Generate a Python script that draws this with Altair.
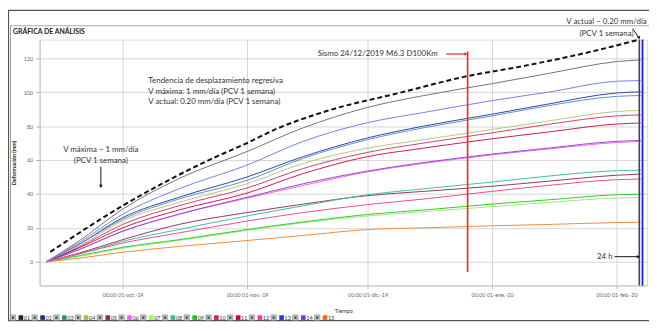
import altair as alt
import pandas as pd

# ---------------- data ----------------
dates = ["2019-09-12", "2019-09-20", "2019-10-01", "2019-10-15", "2019-11-01", "2019-11-15",
         "2019-12-01", "2019-12-15", "2020-01-01", "2020-01-15", "2020-02-01", "2020-02-07"]

series_names = ["01", "02", "03", "04", "05", "06", "07", "08", "09", "10", "11", "12", "13", "14", "15"]
line_colors = ["#737373", "#2a4a94", "#5b8fd0", "#b9c77e", "#8e3a5e", "#ee66ee", "#a6e87a", "#3fbf9c",
               "#2ccc2c", "#d0406e", "#d01848", "#ee4a94", "#7c7ce8", "#9a48d0", "#f08a3c"]
legend_colors = ["#222222", "#1a2f8a", "#2f8f8f", "#9cc43c", "#8a2a55", "#ff55ff", "#99ff55", "#33bb88",
                 "#11cc11", "#cc2255", "#cc0033", "#ff3399", "#2233ee", "#8833cc", "#ff6600"]

s01 = [0, 12, 31, 49, 65, 79, 91, 98, 105, 111, 118, 119]
s02 = [0, 10, 26, 38, 50, 62, 73, 80, 87, 93, 99.5, 100.2]
s03 = [0, 10, 25, 37, 48, 61, 72, 79, 86, 92, 97.5, 98]
s04 = [0, 9, 24, 35, 46, 58, 67, 72, 78, 83, 88.6, 89.3]
s05 = [0, 5, 13, 22, 29, 34, 39, 41.5, 44.5, 47.5, 51, 51.7]
s06 = [0, 7, 18, 28, 37.5, 45, 53, 58, 63, 66.5, 70.3, 71]
s07 = [0, 3, 8, 12.5, 18.5, 23, 27, 29.5, 32.5, 35, 37.6, 37.9]
s08 = [0, 4.5, 12, 19, 27, 33, 39.5, 43, 47, 50.5, 53.7, 54]
s09 = [0, 3.5, 8.5, 13, 19, 23.5, 27.9, 30.5, 34, 36.5, 39.5, 39.8]
s10 = [0, 8.5, 22, 33, 43.5, 55, 64.5, 70, 76, 81, 86, 86.6]
s11 = [0, 8, 20, 30.5, 40.5, 52, 62, 67, 72.5, 76.5, 81.2, 81.8]
s12 = [0, 4.5, 11, 17, 24, 29, 33.7, 37, 41.5, 45, 48.4, 48.8]
s13 = [0, 11, 28, 43, 57, 71, 82, 88, 95, 100, 106.4, 106.8]
s14 = [0, 7, 18, 28, 38, 46, 53.5, 58.5, 63.5, 67, 71, 71.5]
s15 = [0, 2, 5.6, 9, 12.5, 15.5, 19, 20, 21.2, 22, 23.1, 23.3]
all_series = [s01, s02, s03, s04, s05, s06, s07, s08, s09, s10, s11, s12, s13, s14, s15]

trend_dates = ["2019-09-13", "2019-10-01", "2019-10-23", "2019-11-01", "2019-11-08", "2019-11-21",
               "2019-12-09", "2019-12-25", "2020-01-09", "2020-01-25", "2020-02-06T16:00:00Z"]
trend_values = [5.8, 33, 60.5, 70, 78, 89, 99.6, 109, 115.5, 123.5, 131]

tick_dates = ["2019-10-01", "2019-11-01", "2019-12-01", "2020-01-01", "2020-02-01"]
tick_labels = ["00:00 01-oct.-19", "00:00 01-nov.-19", "00:00 01-dic.-19", "00:00 01-ene.-20", "00:00 01-feb.-20"]
y_ticks = [0, 20, 40, 60, 80, 100, 120]

sismo_date = "2019-12-25T22:00:00Z"
sismo_range = [124, -6]
black_line_date = "2020-02-06T16:00:00Z"
blue_line_date = "2020-02-07T11:00:00Z"

notes_left = ["Tendencia de desplazamiento regresiva",
              "V máxima: 1 mm/día (PCV 1 semana)",
              "V actual: 0.20 mm/día (PCV 1 semana)"]
notes_left_date = "2019-10-07T10:00:00Z"
notes_left_values = [106.4, 100.3, 94.2]

vmax_text = ["V máxima ~ 1 mm/día", "(PCV 1 semana)"]
vmax_date = "2019-09-25T14:00:00Z"
vmax_values = [65.7, 59.3]
vmax_arrow = [56.0, 44.5]

vact_text = ["V actual ~ 0.20 mm/día", "(PCV 1 semana)"]
vact_date = "2020-01-29T12:00:00Z"
vact_values = [141.2, 134.3]

sismo_text = "Sismo 24/12/2019 M6.3 D100Km"
sismo_text_date = "2019-12-18T12:00:00Z"
sismo_text_value = 122.5
sismo_arrow_dates = ["2019-12-20T14:00:00Z", "2019-12-25T12:00:00Z"]

h24_text = "24 h"
h24_date = "2020-01-31T00:00:00Z"
h24_value = 3.0
h24_arrow_dates = ["2020-01-31T12:00:00Z", "2020-02-06T10:00:00Z"]

# ---------------- tables ----------------
rows = []
for name, vals in zip(series_names, all_series):
    for d, v in zip(dates, vals):
        rows.append({"fecha": d, "serie": name, "valor": v})
df = pd.DataFrame(rows)
trend_df = pd.DataFrame({"fecha": trend_dates, "valor": trend_values})

W, H = 615, 249
FONT = "Lato"
LEG_Y = 281.5

def dt(y, m, d, h=0):
    return alt.DateTime(year=y, month=m, date=d, hours=h, utc=True)

xscale = alt.Scale(type="utc", domain=[dt(2019, 9, 10, 8), dt(2020, 2, 8, 14)])
yscale = alt.Scale(domain=[-14, 131], nice=False, zero=False)

label_expr = ""
for d, lab in zip(tick_dates, tick_labels):
    label_expr += f"utcFormat(datum.value, '%Y-%m-%d') == '{d}' ? '{lab}' : "
label_expr += "''"
tick_vals = [dt(int(d[:4]), int(d[5:7]), int(d[8:10])) for d in tick_dates]

xaxis = alt.Axis(values=tick_vals, labelExpr=label_expr, title="Tiempo", grid=True,
                 gridColor="#d6d6d6", gridWidth=1, domainColor="#c0c0c0", tickColor="#b0b0b0",
                 tickSize=3, labelFontSize=5.5, labelColor="#666", labelPadding=4, labelFont=FONT,
                 titleFontSize=5.5, titleFont=FONT, titleColor="#333", titleFontWeight="normal",
                 titleY=23, labelFlush=False)
yaxis = alt.Axis(values=y_ticks, title="Deformación (mm)", grid=True, gridColor="#d6d6d6",
                 domainColor="#c0c0c0", tickColor="#b0b0b0", tickSize=4, labelFontSize=5.5,
                 labelColor="#666", labelPadding=3, labelFont=FONT, titleFontSize=5.5, titleFont=FONT,
                 titleColor="#222", titleFontWeight="bold", titleX=-23)

color_scale = alt.Scale(domain=series_names, range=line_colors)

lines = alt.Chart(df).mark_line(strokeWidth=1, interpolate="monotone").encode(
    x=alt.X("fecha:T", scale=xscale, axis=xaxis),
    y=alt.Y("valor:Q", scale=yscale, axis=yaxis),
    color=alt.Color("serie:N", scale=color_scale, legend=None),
)

trend = alt.Chart(trend_df).mark_line(color="#111", strokeWidth=2, strokeDash=[5, 3],
                                      interpolate="monotone").encode(x="fecha:T", y="valor:Q")

sismo_rule = alt.Chart(pd.DataFrame({"fecha": [sismo_date], "a": [sismo_range[0]], "b": [sismo_range[1]]})
                       ).mark_rule(color="#ee2020", strokeWidth=1.5).encode(x="fecha:T", y="a:Q", y2="b:Q")
black_rule = alt.Chart(pd.DataFrame({"fecha": [black_line_date]})).mark_rule(
    color="#444", strokeWidth=1.6).encode(x="fecha:T")
blue_rule = alt.Chart(pd.DataFrame({"fecha": [blue_line_date]})).mark_rule(
    color="#1a1aff", strokeWidth=1.8).encode(x="fecha:T")

txt = dict(font=FONT, fontSize=8, color="#333", baseline="middle")

notes = alt.Chart(pd.DataFrame({"fecha": [notes_left_date] * 3, "valor": notes_left_values, "t": notes_left})
                  ).mark_text(align="left", **txt).encode(x="fecha:T", y="valor:Q", text="t:N")
vmax = alt.Chart(pd.DataFrame({"fecha": [vmax_date] * 2, "valor": vmax_values, "t": vmax_text})
                 ).mark_text(align="center", **txt).encode(x="fecha:T", y="valor:Q", text="t:N")
vmax_line = alt.Chart(pd.DataFrame({"fecha": [vmax_date], "a": [vmax_arrow[0]], "b": [vmax_arrow[1]]})
                      ).mark_rule(color="#111", strokeWidth=1).encode(x="fecha:T", y="a:Q", y2="b:Q")
vmax_head = alt.Chart(pd.DataFrame({"fecha": [vmax_date], "b": [vmax_arrow[1]]})).mark_point(
    shape="triangle-down", filled=True, color="#111", size=14, opacity=1).encode(x="fecha:T", y="b:Q")

vact = alt.Chart(pd.DataFrame({"fecha": [vact_date] * 2, "valor": vact_values, "t": vact_text})
                 ).mark_text(align="center", **txt).encode(x="fecha:T", y="valor:Q", text="t:N")
vact_line = alt.Chart(pd.DataFrame({"a": ["2020-02-05T00:00:00Z"], "b": ["2020-02-06T14:00:00Z"],
                                    "ya": [137.5], "yb": [132]})).mark_rule(color="#111", strokeWidth=1).encode(
    x="a:T", x2="b:T", y="ya:Q", y2="yb:Q")
vact_head = alt.Chart(pd.DataFrame({"b": ["2020-02-06T14:00:00Z"], "yb": [132]})).mark_point(
    shape="triangle-down", filled=True, color="#111", size=12, angle=335, opacity=1).encode(x="b:T", y="yb:Q")

sismo_t = alt.Chart(pd.DataFrame({"fecha": [sismo_text_date], "valor": [sismo_text_value], "t": [sismo_text]})
                    ).mark_text(align="right", **txt).encode(x="fecha:T", y="valor:Q", text="t:N")
sismo_arrow = alt.Chart(pd.DataFrame({"a": [sismo_arrow_dates[0]], "b": [sismo_arrow_dates[1]],
                                      "v": [sismo_text_value]})).mark_rule(color="#ee2020", strokeWidth=1.2).encode(
    x="a:T", x2="b:T", y="v:Q")
sismo_head = alt.Chart(pd.DataFrame({"b": [sismo_arrow_dates[1]], "v": [sismo_text_value]})).mark_point(
    shape="triangle-right", filled=True, color="#ee2020", size=14, opacity=1).encode(x="b:T", y="v:Q")

h24_t = alt.Chart(pd.DataFrame({"fecha": [h24_date], "valor": [h24_value], "t": [h24_text]})
                  ).mark_text(align="right", **txt).encode(x="fecha:T", y="valor:Q", text="t:N")
h24_arrow = alt.Chart(pd.DataFrame({"a": [h24_arrow_dates[0]], "b": [h24_arrow_dates[1]], "v": [h24_value]})
                      ).mark_rule(color="#111", strokeWidth=1).encode(x="a:T", x2="b:T", y="v:Q")
h24_head = alt.Chart(pd.DataFrame({"b": [h24_arrow_dates[1]], "v": [h24_value]})).mark_point(
    shape="triangle-right", filled=True, color="#111", size=12, opacity=1).encode(x="b:T", y="v:Q")

one = pd.DataFrame({"k": [0]})
title_t = alt.Chart(one).mark_text(text="GRÁFICA DE ANÁLISIS", align="left", baseline="middle", font=FONT,
                                   fontSize=7, fontWeight="bold", color="#222").encode(
    x=alt.value(-27), y=alt.value(-8))
frame_top = alt.Chart(one).mark_rule(color="#555", strokeWidth=1.2).encode(
    x=alt.value(-32), x2=alt.value(617), y=alt.value(-29.5))
frame_top2 = alt.Chart(one).mark_rule(color="#aaa", strokeWidth=1).encode(
    x=alt.value(-30), x2=alt.value(617), y=alt.value(-14))
frame_left = alt.Chart(one).mark_rule(color="#555", strokeWidth=1.2).encode(
    x=alt.value(-31.5), y=alt.value(-30), y2=alt.value(285))
frame_left2 = alt.Chart(one).mark_rule(color="#999", strokeWidth=1).encode(
    x=alt.value(-29.5), y=alt.value(-14), y2=alt.value(285))
frame_bottom = alt.Chart(one).mark_rule(color="#555", strokeWidth=1.2).encode(
    x=alt.value(-32), x2=alt.value(617), y=alt.value(284.5))

# legend row drawn from the series list through an index scale
leg_df = pd.DataFrame({"serie": series_names, "idx": list(range(len(series_names)))})
leg_x = alt.X("idx:Q", scale=alt.Scale(domain=[0, 14], range=[-27, 281]), axis=None)
leg_box = alt.Chart(leg_df).mark_square(size=30, fill="#c4c4c4", stroke="#888", strokeWidth=0.6,
                                        opacity=1).encode(x=leg_x, y=alt.value(LEG_Y))
leg_dot = alt.Chart(leg_df).mark_square(size=5, fill="#444", opacity=1).encode(x=leg_x, y=alt.value(LEG_Y))
leg_sq = alt.Chart(leg_df).mark_square(size=22, opacity=1, xOffset=8).encode(
    x=leg_x, y=alt.value(LEG_Y),
    color=alt.Color("serie:N", scale=alt.Scale(domain=series_names, range=legend_colors), legend=None))
leg_t = alt.Chart(leg_df).mark_text(align="left", baseline="middle", font=FONT, fontSize=5.5, color="#333",
                                    dx=11).encode(x=leg_x, y=alt.value(LEG_Y), text="serie:N")

main = alt.layer(lines, trend, sismo_rule, black_rule, blue_rule, notes, vmax, vmax_line, vmax_head,
                 vact, vact_line, vact_head, sismo_t, sismo_arrow, sismo_head, h24_t, h24_arrow, h24_head,
                 title_t, frame_top, frame_top2, frame_left, frame_left2, frame_bottom)
legend_layer = alt.layer(leg_box, leg_dot, leg_sq, leg_t).resolve_scale(color="independent")

chart = alt.layer(main, legend_layer).resolve_scale(x="independent", color="independent").properties(
    width=W, height=H,
    autosize=alt.AutoSizeParams(type="none"),
    padding={"left": 32, "top": 30, "right": 2, "bottom": 36},
).configure_view(stroke=None).configure(background="white")

chart.save("out.html", embed_options={"renderer": "svg", "actions": False})
